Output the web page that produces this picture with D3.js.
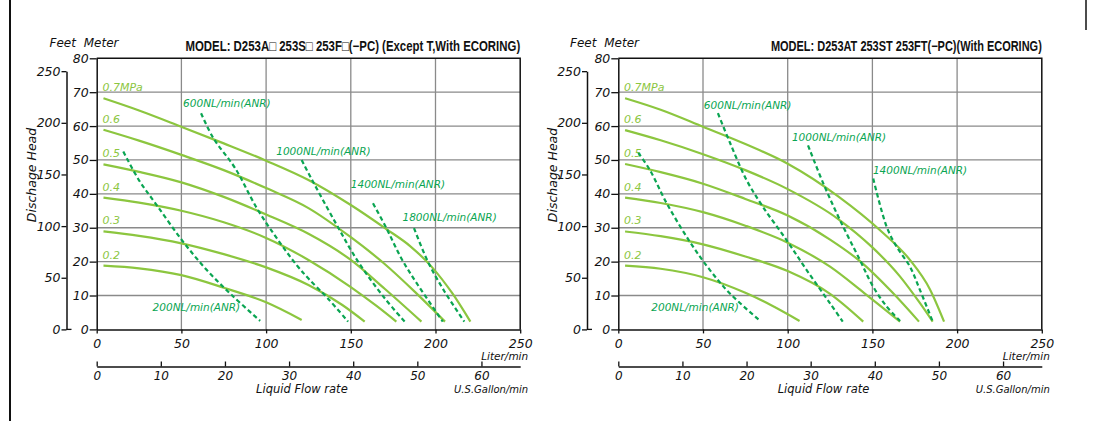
<!DOCTYPE html>
<html><head><meta charset="utf-8">
<script src="https://cdn.jsdelivr.net/npm/d3@7"></script>
<style>body{margin:0;background:#fff}svg{display:block}</style>
</head><body><svg id="c" width="1097" height="421"></svg>
<script>
// ---------- data ----------
const flowTicks = [0, 50, 100, 150, 200, 250];          // Liter/min
const gallonTicks = [0, 10, 20, 30, 40, 50, 60];         // U.S.Gallon/min
const meterTicks = [0, 10, 20, 30, 40, 50, 60, 70, 80];  // Meter
const feetTicks = [0, 50, 100, 150, 200, 250];           // Feet
const pressureLabels = ["0.7MPa", "0.6", "0.5", "0.4", "0.3", "0.2"];

// Left panel: D253A/S/F (Except T) — [L/min, m]
const leftP07 = [[4,68.2],[25,64.6],[50,59.8],[75,54.9],[100,49.8],[125,44.1],[150,36.7],[171,29.6],[185,24.6],[197.5,18.6],[210,10.6],[220.6,2.3]];
const leftP06 = [[4,58.9],[25,55.7],[50,51.5],[75,47],[100,41.7],[125,35.8],[150,27.2],[170,19.3],[188,11],[205.6,2.3]];
const leftP05 = [[4,48.7],[25,46.5],[50,43.4],[75,39.1],[100,33.9],[125,28.2],[150,20.5],[170,12],[191.7,2.3]];
const leftP04 = [[4,38.9],[25,37.4],[50,35],[75,31.6],[100,27],[125,20.5],[150,12.5],[165,7],[176.9,2.3]];
const leftP03 = [[4,28.9],[25,27.6],[50,25.4],[75,22.2],[100,18.3],[125,13.1],[145,7.2],[158.2,2.3]];
const leftP02 = [[4,18.8],[25,18],[50,16],[75,12.3],[100,8],[121,2.8]];
const leftAir200 = [[15.7,52.5],[25,44],[35.4,36.7],[50.2,26.4],[65,17.5],[80,10],[96.5,2.5]];
const leftAir600 = [[61.6,63.8],[68.9,56.4],[81.7,47.6],[94.5,35.8],[106.3,26.9],[118,19],[125,15],[136.7,9],[148.4,2.3]];
const leftAir1000 = [[121,50],[125,46.1],[140.6,31.8],[154.3,20],[170,9.2],[181.8,2.3]];
const leftAir1400 = [[163.1,37.2],[171,29.9],[179.8,21],[189.6,13.1],[204.3,2.3]];
const leftAir1800 = [[187.3,29.9],[195.5,20],[205.3,11.2],[217,2.3]];
const leftAirLabels = ["200NL/min(ANR)", "600NL/min(ANR)", "1000NL/min(ANR)", "1400NL/min(ANR)", "1800NL/min(ANR)"];

// Right panel: D253AT/ST/FT (With ECORING) — [L/min, m]
const rightP07 = [[4,68.2],[25,64.8],[50,59.8],[75,54.7],[100,48.9],[130,39.2],[156,28.6],[172,20.6],[184,11.8],[192.3,2.3]];
const rightP06 = [[4,58.8],[25,55.8],[50,51.7],[75,47],[100,41.4],[130,32.5],[150,24.2],[166,15.8],[178,7.8],[185.6,2.3]];
const rightP05 = [[4,48.8],[25,46.4],[50,43],[75,38.5],[100,33.6],[125,26.5],[143,20],[162,10.8],[177.5,2.3]];
const rightP04 = [[4,38.9],[25,37.3],[50,34.6],[75,30.6],[100,25.6],[125,18.5],[145,10.8],[166.3,2.3]];
const rightP03 = [[4,28.9],[25,27.5],[50,25.1],[75,21.5],[100,17.2],[125,10.5],[144.6,2.3]];
const rightP02 = [[4,18.8],[25,17.9],[50,15.4],[75,10.8],[90,7.2],[107,2.5]];
const rightAir200 = [[11.8,52.1],[18.7,47],[28.6,37.2],[42.3,25.8],[54.1,17.5],[65.9,10.6],[83.3,2.7]];
const rightAir600 = [[58.8,63.8],[66,55],[75.8,44],[85.6,36],[99.4,26.3],[111.2,17.5],[125,7.7],[132.5,2.3]];
const rightAir1000 = [[112,54.3],[121,43.1],[130.9,32.2],[142.7,20.4],[150,13],[158,7],[166.3,2.5]];
const rightAir1400 = [[150.5,44.5],[158.4,30.3],[164.3,24.4],[172.2,18.5],[178.1,11.6],[185.6,2.3]];
const rightAirLabels = ["200NL/min(ANR)", "600NL/min(ANR)", "1000NL/min(ANR)", "1400NL/min(ANR)"];

const leftTitle = "MODEL: D253A\u25A1 253S\u25A1 253F\u25A1(\u2212PC) (Except T,With ECORING)";
const rightTitle = "MODEL: D253AT 253ST 253FT(\u2212PC)(With ECORING)";

// ---------- style / layout ----------
const C = { solid: "#8cc63f", dash: "#0aa552", grid: "#8a8a8a", ink: "#111" };
const NUM_FONT = "'DejaVu Sans', sans-serif";
const TITLE_FONT = "'Liberation Sans Narrow', 'Liberation Sans', sans-serif";
const M_PER_FT = 1 / 3.28084, L_PER_GAL = 3.78541;

const svg = d3.select("#c");
svg.append("line").attr("x1", 10).attr("x2", 10).attr("y1", 0).attr("y2", 421)
  .attr("stroke", C.ink).attr("stroke-width", 2);
svg.append("line").attr("x1", 1086).attr("x2", 1086).attr("y1", 0).attr("y2", 30)
  .attr("stroke", C.ink).attr("stroke-width", 1.5);

function panel(cfg) {
  const g = svg.append("g");
  const x = d3.scaleLinear().domain([0, 250]).range([cfg.x0, cfg.x0 + 423.5]);
  const y = d3.scaleLinear().domain([0, 80]).range([329.4, 58.3]);

  // grid
  g.append("g").selectAll("line").data(flowTicks.slice(1, -1)).join("line")
    .attr("x1", d => x(d)).attr("x2", d => x(d)).attr("y1", y(0)).attr("y2", y(80))
    .attr("stroke", C.grid).attr("stroke-width", 1.3);
  g.append("g").selectAll("line").data(meterTicks.slice(1, -1)).join("line")
    .attr("x1", x(0)).attr("x2", x(250)).attr("y1", d => y(d)).attr("y2", d => y(d))
    .attr("stroke", C.grid).attr("stroke-width", 1.3);
  // frame top / right
  g.append("path").attr("d", `M${x(0)},${y(80)}H${x(250)}V${y(0)}`)
    .attr("fill", "none").attr("stroke", C.ink).attr("stroke-width", 1.5);

  // meter axis
  const ay = g.append("g").attr("transform", `translate(${x(0)},0)`)
    .call(d3.axisLeft(y).tickValues(meterTicks).tickSize(7).tickPadding(1).tickSizeOuter(0));
  // flow axis (L/min)
  const ax = g.append("g").attr("transform", `translate(0,${y(0)})`)
    .call(d3.axisBottom(x).tickValues(flowTicks).tickSize(4).tickPadding(6).tickSizeOuter(0));
  // feet axis
  const yf = d3.scaleLinear().domain([0, 250]).range([y(0), y(250 * M_PER_FT)]);
  const af = g.append("g").attr("transform", `translate(${cfg.fx},0)`)
    .call(d3.axisLeft(yf).tickValues(feetTicks).tickSize(5).tickPadding(1).tickSizeOuter(0));
  af.append("line").attr("x1", 0).attr("x2", 5).attr("y1", y(0)).attr("y2", y(0)).attr("stroke", C.ink).attr("stroke-width", 1.3);
  // gallon axis
  const xg = d3.scaleLinear().domain([0, 250 / L_PER_GAL]).range([x(0), x(250)]);
  const agY = 366.5;
  const ag = g.append("g").attr("transform", `translate(0,${agY})`)
    .call(d3.axisTop(xg).tickValues(gallonTicks).tickSize(5).tickFormat(() => "").tickSizeOuter(0));
  ag.selectAll(".tick").append("text").attr("y", 13).attr("fill", C.ink).text(d => d);

  [ay, ax, af, ag].forEach(a => {
    a.selectAll("path.domain").attr("stroke", C.ink).attr("stroke-width", 1.5);
    a.selectAll(".tick line").attr("stroke", C.ink).attr("stroke-width", 1.3);
    a.selectAll("text").attr("font-family", NUM_FONT).attr("font-style", "italic")
      .attr("font-size", 12.5).attr("fill", C.ink);
  });
  ag.selectAll("text").attr("font-size", 12);

  // unit texts
  const t = (xx, yy, s, opt = {}) => g.append("text").attr("x", xx).attr("y", yy).text(s)
    .attr("font-family", NUM_FONT).attr("font-style", "italic").attr("fill", C.ink)
    .attr("font-size", opt.size || 10.5).attr("text-anchor", opt.anchor || "start")
    .attr("word-spacing", opt.ws || 0);
  t(x(250) + 8, 360, "Liter/min", { anchor: "end", size: 10.5 });
  t(x(250) + 8, 393, "U.S.Gallon/min", { anchor: "end", size: 10 });
  t(xg(32), 393, "Liquid Flow rate", { anchor: "middle", size: 11.5 });
  t(cfg.fx - 17, 47, "Feet Meter", { size: 12, ws: 4 });
  g.append("text").attr("transform", `translate(${cfg.fx - 30.5},175) rotate(-90)`)
    .attr("text-anchor", "middle").attr("font-family", NUM_FONT).attr("font-style", "italic")
    .attr("font-size", 12.5).attr("fill", C.ink).text("Dischage Head");
  // title: condensed via horizontal scale so its box matches what is drawn
  const tt = g.append("text").attr("x", 0).attr("y", 0).attr("text-anchor", "end")
    .attr("font-family", TITLE_FONT).attr("font-weight", "bold").attr("font-size", 14).attr("fill", C.ink)
    .text(cfg.title);
  const natural = tt.node().getComputedTextLength();
  tt.attr("transform", `translate(${x(250)},51) scale(${cfg.titleW / natural},1)`);

  const line = d3.line().x(d => x(d[0])).y(d => y(d[1])).curve(d3.curveMonotoneX);
  const dline = d3.line().x(d => x(d[0])).y(d => y(d[1])).curve(d3.curveCatmullRom.alpha(0.5));

  cfg.curves.forEach((c, i) => {
    g.append("path").attr("d", line(c)).attr("fill", "none").attr("stroke", C.solid).attr("stroke-width", 2.2);
    g.append("text").attr("x", x(c[0][0]) - 1).attr("y", y(c[0][1]) - 7)
      .attr("font-family", NUM_FONT).attr("font-style", "italic").attr("font-size", 11)
      .attr("fill", C.solid).text(pressureLabels[i]);
  });
  cfg.air.forEach((c, i) => {
    g.append("path").attr("d", dline(c)).attr("fill", "none").attr("stroke", C.dash)
      .attr("stroke-width", 2.2).attr("stroke-dasharray", "4.5,3");
    const p = cfg.airLabelPos[i];
    g.append("text").attr("x", x(p[0])).attr("y", y(p[1]))
      .attr("font-family", NUM_FONT).attr("font-style", "italic").attr("font-size", 10.5)
      .attr("fill", C.dash).text(cfg.airLabels[i]);
  });
}

panel({
  x0: 96.7, fx: 66.5, title: leftTitle, titleW: 335,
  curves: [leftP07, leftP06, leftP05, leftP04, leftP03, leftP02],
  air: [leftAir200, leftAir600, leftAir1000, leftAir1400, leftAir1800],
  airLabels: leftAirLabels,
  airLabelPos: [[33, 5.5], [51, 65.5], [106, 51.5], [150, 41.6], [180.5, 32]]
});
panel({
  x0: 618.3, fx: 587, title: rightTitle, titleW: 271,
  curves: [rightP07, rightP06, rightP05, rightP04, rightP03, rightP02],
  air: [rightAir200, rightAir600, rightAir1000, rightAir1400],
  airLabels: rightAirLabels,
  airLabelPos: [[19.5, 5.5], [50.5, 65], [102.5, 55.7], [150.3, 46]]
});
</script></body></html>
